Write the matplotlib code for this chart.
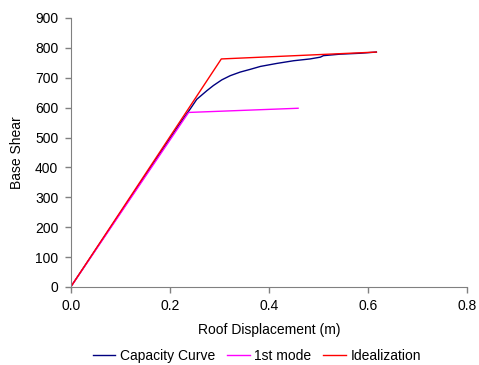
import matplotlib
matplotlib.use("Agg")
import matplotlib.pyplot as plt

plt.rcParams["font.family"] = ["Liberation Sans", "DejaVu Sans"]
plt.rcParams["font.size"] = 10

# capacity (pushover) curve
cap_x = [0.0, 0.215, 0.228, 0.241, 0.2545, 0.275, 0.288, 0.305, 0.322, 0.342,
         0.362, 0.383, 0.416, 0.45, 0.483, 0.504, 0.51, 0.544, 0.584, 0.617]
cap_y = [0, 533, 565, 595, 628, 657, 674, 693, 707, 719,
         728, 738, 748, 757, 763, 769, 774, 779, 782, 786]

# first mode curve
mode_x = [0.0, 0.238, 0.459]
mode_y = [0, 584, 598]

# bilinear idealization
ideal_x = [0.0, 0.304, 0.617]
ideal_y = [0, 763, 786]

fig = plt.figure(figsize=(4.79, 3.65), dpi=100)
ax = fig.add_axes([0.1476, 0.2137, 0.8274, 0.737])

ax.plot(cap_x, cap_y, color="#000080", lw=1.0, label="Capacity Curve")
ax.plot(mode_x, mode_y, color="#ff00ff", lw=1.0, label="1st mode")
ax.plot(ideal_x, ideal_y, color="#ff0000", lw=1.0, label="Idealization")

ax.set_xlim(0, 0.8)
ax.set_ylim(0, 900)
ax.set_xticks([0.0, 0.2, 0.4, 0.6, 0.8])
ax.set_xticklabels(["0.0", "0.2", "0.4", "0.6", "0.8"])
ax.set_yticks(range(0, 901, 100))
ax.spines["top"].set_visible(False)
ax.spines["right"].set_visible(False)
for s in ("left", "bottom"):
    ax.spines[s].set_color("#808080")
ax.tick_params(direction="out", length=4, color="#808080", width=1)
ax.tick_params(axis="x", pad=5)
ax.tick_params(axis="y", pad=5)

ax.set_xlabel("Roof Displacement (m)", labelpad=7)
ax.set_ylabel("Base Shear", labelpad=8)

fig.legend(loc="center", bbox_to_anchor=(0.536, 9 / 365), ncol=3,
           frameon=False, handlelength=1.65, handletextpad=0.35,
           columnspacing=0.8, fontsize=10)

fig.savefig("out.png", dpi=100)
